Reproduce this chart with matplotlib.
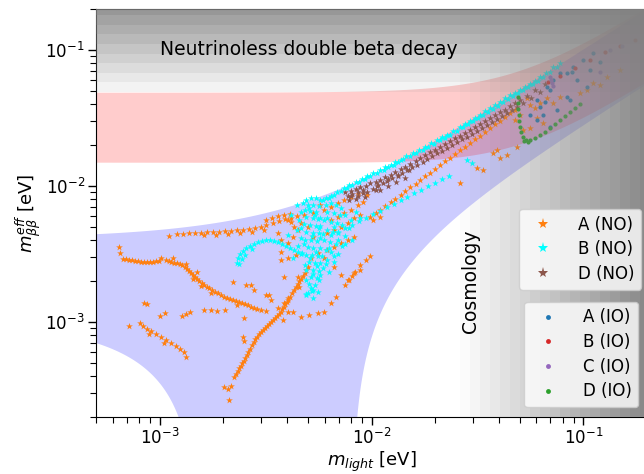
import numpy as np
import matplotlib
matplotlib.use("Agg")
import matplotlib.pyplot as plt
from matplotlib.lines import Line2D

# ---------------- oscillation parameters ----------------
# mixing angles scanned over their 3 sigma ranges, mass splittings at best fit
s12sq = [0.269, 0.287, 0.306, 0.324, 0.343]
s13sq = [0.02032, 0.02125, 0.02225, 0.02320, 0.02410]
dm21 = [7.42e-5]
dm31_NO = [2.515e-3]
dm32_IO = [2.498e-3]

# gray exclusion stripes
bb_limits = [0.049, 0.058, 0.068, 0.080, 0.094, 0.111, 0.130, 0.153, 0.181]
cosmo_limits = [0.0263, 0.0293, 0.0327, 0.0364, 0.0406, 0.0452, 0.0504, 0.0561,
                0.0625, 0.0697, 0.0776, 0.0865, 0.0964, 0.1074, 0.1197, 0.1334,
                0.1486, 0.1656, 0.1845]

# ---------------- scan points: (log10 m_light, log10 m_bb) ----------------
A_NO = [
    # upper-left track
    (-2.958, -2.368), (-2.920, -2.353), (-2.892, -2.353), (-2.863, -2.346), (-2.835, -2.346),
    (-2.807, -2.346), (-2.778, -2.338), (-2.750, -2.338), (-2.722, -2.338), (-2.693, -2.331),
    (-2.665, -2.331), (-2.637, -2.324), (-2.609, -2.324), (-2.580, -2.316), (-2.552, -2.309),
    (-2.524, -2.302), (-2.496, -2.287), (-2.467, -2.272), (-2.439, -2.257), (-2.410, -2.243),
    (-2.382, -2.235), (-2.354, -2.221), (-2.321, -2.213),
    (-2.793, -2.364), (-2.736, -2.360), (-2.679, -2.353), (-2.623, -2.346), (-2.566, -2.338),
    (-2.509, -2.324), (-2.500, -2.250), (-2.472, -2.235), (-2.443, -2.221), (-2.415, -2.213),
    (-2.387, -2.206),
    # left-middle track
    (-3.193, -2.449), (-3.189, -2.493), (-3.175, -2.537), (-3.146, -2.544), (-3.118, -2.551),
    (-3.090, -2.559), (-3.061, -2.559), (-3.033, -2.559), (-3.005, -2.551), (-2.995, -2.529),
    (-2.972, -2.544), (-2.948, -2.559), (-2.920, -2.566), (-2.896, -2.581), (-2.873, -2.610),
    (-2.854, -2.640), (-2.835, -2.669), (-2.816, -2.698), (-2.792, -2.728), (-2.769, -2.750),
    (-2.741, -2.779), (-2.712, -2.801), (-2.684, -2.824), (-2.656, -2.838), (-2.627, -2.853),
    (-2.599, -2.868), (-2.571, -2.890), (-2.542, -2.904),
    (-2.844, -2.684), (-2.807, -2.735), (-2.759, -2.787), (-2.637, -2.875), (-2.825, -2.632),
    (-2.939, -2.529), (-2.877, -2.574),
    (-3.160, -2.540), (-3.132, -2.548), (-3.104, -2.555), (-3.075, -2.559), (-3.047, -2.559),
    (-3.019, -2.555), (-2.958, -2.551), (-2.934, -2.563), (-2.906, -2.574), (-2.882, -2.596),
    (-2.863, -2.625), (-2.844, -2.654), (-2.825, -2.684), (-2.802, -2.713), (-2.778, -2.743),
    (-2.755, -2.765), (-2.726, -2.790), (-2.698, -2.813), (-2.670, -2.831), (-2.642, -2.846),
    (-2.613, -2.860), (-2.585, -2.879), (-2.557, -2.897),
    # lower-left diagonal
    (-3.146, -3.029), (-3.094, -3.007), (-3.080, -3.029), (-3.061, -3.051), (-3.042, -3.066),
    (-3.019, -3.088), (-2.995, -3.110), (-2.972, -3.132), (-2.948, -3.154), (-2.925, -3.176),
    (-2.906, -3.199), (-2.887, -3.221), (-2.877, -3.257), (-3.052, -3.088), (-2.981, -3.154),
    # small pieces
    (-3.075, -2.860), (-3.061, -2.868), (-3.000, -2.956), (-2.976, -2.934),
    (-2.896, -2.956), (-2.877, -2.941), (-2.858, -2.926),
    # rising diagonal
    (-2.698, -3.478), (-2.679, -3.493), (-2.665, -3.471), (-2.675, -3.574), (-2.651, -3.404),
    (-2.632, -3.360), (-2.618, -3.323), (-2.604, -3.287), (-2.590, -3.243), (-2.576, -3.199),
    (-2.557, -3.147), (-2.542, -3.110), (-2.524, -3.073), (-2.505, -3.044), (-2.486, -3.015),
    (-2.467, -2.985), (-2.448, -2.956), (-2.429, -2.926), (-2.415, -2.890), (-2.401, -2.853),
    (-2.387, -2.816), (-2.368, -2.765), (-2.349, -2.721), (-2.335, -2.684), (-2.316, -2.640),
    (-2.302, -2.596),
    (-2.642, -3.382), (-2.625, -3.342), (-2.611, -3.305), (-2.597, -3.265), (-2.583, -3.221),
    (-2.566, -3.173), (-2.550, -3.129), (-2.533, -3.092), (-2.514, -3.059), (-2.495, -3.029),
    (-2.476, -3.000), (-2.458, -2.971), (-2.439, -2.941), (-2.422, -2.908), (-2.408, -2.871),
    (-2.394, -2.835), (-2.377, -2.790), (-2.358, -2.743), (-2.342, -2.702), (-2.325, -2.662),
    (-2.309, -2.618),
    (-2.792, -2.912), (-2.759, -2.912), (-2.731, -2.919), (-2.693, -2.912), (-2.604, -2.971),
    (-2.609, -3.110), (-2.604, -3.140),
    (-2.123, -2.728), (-2.108, -2.691), (-2.094, -2.662), (-2.080, -2.632), (-2.052, -2.581),
    (-2.028, -2.544), (-2.009, -2.515),
    (-2.170, -2.816), (-2.193, -2.860), (-2.226, -2.926), (-2.255, -2.934), (-2.297, -2.949),
    (-2.335, -2.963), (-2.373, -2.926), (-2.396, -2.926), (-2.420, -2.985),
    # mid scattered
    (-2.656, -2.706), (-2.594, -2.728), (-2.571, -2.728), (-2.557, -2.765), (-2.500, -2.801),
    (-2.486, -2.801), (-2.476, -2.838), (-2.443, -2.897), (-2.415, -2.860), (-2.396, -2.824),
    (-2.524, -2.912), (-2.496, -2.919),
    # central cluster
    (-2.443, -2.346), (-2.429, -2.397), (-2.396, -2.419), (-2.373, -2.375), (-2.349, -2.324),
    (-2.335, -2.272), (-2.382, -2.265), (-2.429, -2.485), (-2.396, -2.529), (-2.358, -2.507),
    (-2.288, -2.529), (-2.255, -2.493), (-2.226, -2.529), (-2.208, -2.471), (-2.179, -2.449),
    (-2.146, -2.419), (-2.113, -2.397), (-2.085, -2.375), (-2.208, -2.346), (-2.179, -2.324),
    (-2.146, -2.302), (-2.113, -2.272), (-2.085, -2.235), (-2.052, -2.213), (-2.226, -2.176),
    (-2.193, -2.154), (-2.160, -2.125), (-2.132, -2.103), (-2.099, -2.081), (-2.066, -2.059),
    (-2.274, -2.199), (-2.241, -2.140), (-2.302, -2.302), (-2.179, -2.596), (-2.146, -2.654),
    (-2.113, -2.691), (-2.085, -2.640), (-2.052, -2.618), (-2.349, -2.669), (-2.344, -2.743),
    (-2.415, -2.669), (-2.429, -2.544), (-2.396, -2.250), (-2.368, -2.302), (-2.274, -2.375),
    (-2.132, -2.199), (-2.099, -2.176), (-2.066, -2.140), (-2.038, -2.118), (-2.019, -2.066),
    (-2.160, -2.228), (-2.193, -2.250),
    # main upper band
    (-2.005, -2.228), (-1.981, -2.199), (-1.958, -2.176), (-1.934, -2.147), (-1.910, -2.118),
    (-1.887, -2.096), (-1.863, -2.066), (-1.840, -2.037), (-1.816, -2.007), (-1.792, -1.985),
    (-1.769, -1.956), (-1.745, -1.926), (-1.722, -1.904), (-1.698, -1.875), (-1.675, -1.846),
    (-1.651, -1.816), (-1.627, -1.794), (-1.604, -1.765), (-1.580, -1.735), (-1.557, -1.713),
    (-1.533, -1.684), (-1.509, -1.654), (-1.486, -1.632), (-1.462, -1.603), (-1.439, -1.574),
    (-1.415, -1.544), (-1.392, -1.522), (-1.368, -1.493), (-1.344, -1.463), (-1.321, -1.441),
    # lower scattered
    (-1.580, -1.978), (-1.500, -1.868), (-1.472, -1.882), (-1.406, -1.735), (-1.392, -1.794),
    (-1.358, -1.772), (-1.311, -1.713), (-1.425, -1.757), (-1.991, -2.250), (-1.958, -2.228),
    # high mass region
    (-1.264, -1.353), (-1.250, -1.404), (-1.226, -1.426), (-1.203, -1.390), (-1.170, -1.353),
    (-1.142, -1.390), (-1.108, -1.346), (-1.217, -1.500), (-1.189, -1.537), (-1.283, -1.588),
    (-1.250, -1.574), (-1.014, -1.316), (-0.981, -1.294), (-0.953, -1.243), (-0.920, -1.257),
    (-0.887, -1.199), (-0.825, -1.147), (-1.321, -1.515), (-1.297, -1.478),
]

B_NO = [
    # upper edge line
    (-2.241, -2.103), (-2.217, -2.088), (-2.193, -2.074), (-2.165, -2.044), (-2.132, -2.015),
    (-2.104, -1.993), (-2.075, -1.971), (-2.047, -1.949), (-2.019, -1.926), (-1.991, -1.904),
    (-1.958, -1.882), (-1.934, -1.860), (-1.910, -1.846), (-1.887, -1.824), (-1.863, -1.809),
    (-1.835, -1.779), (-1.802, -1.757), (-1.774, -1.735), (-1.745, -1.713), (-1.717, -1.684),
    (-1.689, -1.662), (-1.665, -1.640), (-1.642, -1.625), (-1.613, -1.596), (-1.580, -1.566),
    (-1.557, -1.544), (-1.533, -1.522), (-1.509, -1.500), (-1.486, -1.478), (-1.462, -1.449),
    (-1.439, -1.426), (-1.415, -1.404), (-1.392, -1.382), (-1.368, -1.353), (-1.344, -1.331),
    (-1.321, -1.316), (-1.297, -1.294), (-1.274, -1.272), (-1.250, -1.250), (-1.226, -1.228),
    (-1.203, -1.199), (-1.175, -1.169), (-1.142, -1.125), (-1.108, -1.096),
    (-2.231, -2.107), (-2.203, -2.088), (-2.179, -2.066), (-2.146, -2.037), (-2.118, -2.015),
    (-2.090, -1.993), (-2.061, -1.971), (-2.033, -1.949), (-2.005, -1.926), (-1.972, -1.904),
    (-1.943, -1.882), (-1.920, -1.864), (-1.896, -1.846), (-1.873, -1.827), (-1.849, -1.805),
    (-1.816, -1.779), (-1.788, -1.757), (-1.759, -1.735), (-1.731, -1.713), (-1.703, -1.688),
    (-1.675, -1.665), (-1.651, -1.647), (-1.627, -1.625), (-1.594, -1.596), (-1.566, -1.570),
    (-1.542, -1.548), (-1.519, -1.526), (-1.495, -1.504), (-1.472, -1.478), (-1.448, -1.456),
    (-1.425, -1.434), (-1.401, -1.412), (-1.377, -1.386), (-1.354, -1.360), (-1.330, -1.338),
    (-1.307, -1.316), (-1.283, -1.294), (-1.259, -1.272), (-1.236, -1.250), (-1.212, -1.228),
    (-1.189, -1.199), (-1.156, -1.162), (-1.123, -1.125),
    # dense cluster
    (-2.311, -2.103), (-2.288, -2.088), (-2.264, -2.088), (-2.302, -2.140), (-2.274, -2.140),
    (-2.250, -2.147), (-2.316, -2.176), (-2.292, -2.184), (-2.264, -2.191), (-2.307, -2.228),
    (-2.278, -2.235), (-2.255, -2.243), (-2.321, -2.279), (-2.292, -2.287), (-2.264, -2.294),
    (-2.241, -2.294), (-2.307, -2.338), (-2.278, -2.346), (-2.250, -2.346), (-2.316, -2.397),
    (-2.288, -2.397), (-2.259, -2.404), (-2.302, -2.449), (-2.274, -2.456), (-2.245, -2.456),
    (-2.311, -2.507), (-2.283, -2.507), (-2.255, -2.515), (-2.297, -2.559), (-2.269, -2.566),
    (-2.241, -2.566), (-2.307, -2.618), (-2.278, -2.618), (-2.250, -2.625), (-2.288, -2.669),
    (-2.259, -2.676), (-2.297, -2.721), (-2.269, -2.728), (-2.283, -2.772), (-2.307, -2.794),
    (-2.278, -2.824),
    (-2.217, -2.140), (-2.193, -2.125), (-2.170, -2.140), (-2.208, -2.191), (-2.179, -2.199),
    (-2.151, -2.213), (-2.222, -2.250), (-2.193, -2.265), (-2.165, -2.272), (-2.137, -2.287),
    (-2.212, -2.324), (-2.184, -2.338), (-2.156, -2.346), (-2.127, -2.368), (-2.226, -2.397),
    (-2.198, -2.412), (-2.170, -2.426), (-2.141, -2.441), (-2.217, -2.471), (-2.189, -2.485),
    (-2.160, -2.500), (-2.208, -2.544), (-2.179, -2.559), (-2.231, -2.603), (-2.203, -2.632),
    (-2.250, -2.691),
    (-2.354, -2.140), (-2.335, -2.191), (-2.344, -2.250), (-2.354, -2.324), (-2.335, -2.382),
    (-2.349, -2.441), (-2.335, -2.500), (-2.302, -2.787), (-2.278, -2.765), (-2.311, -2.801),
    (-2.325, -2.125), (-2.297, -2.162), (-2.269, -2.213), (-2.241, -2.235), (-2.335, -2.309),
    (-2.283, -2.368), (-2.245, -2.382), (-2.321, -2.426), (-2.264, -2.485), (-2.292, -2.529),
    (-2.236, -2.515), (-2.316, -2.581), (-2.259, -2.588), (-2.274, -2.647), (-2.311, -2.691),
    (-2.241, -2.654), (-2.288, -2.750), (-2.255, -2.779), (-2.146, -2.162), (-2.123, -2.213),
    (-2.099, -2.250), (-2.108, -2.309), (-2.075, -2.191), (-2.052, -2.235), (-2.156, -2.397),
    (-2.123, -2.426), (-2.090, -2.397), (-2.203, -2.456), (-2.175, -2.515), (-2.217, -2.574),
    (-2.382, -2.213), (-2.392, -2.360), (-2.373, -2.529), (-2.250, -2.309), (-2.231, -2.353),
    (-2.208, -2.235), (-2.175, -2.301),
    # hook
    (-2.637, -2.566), (-2.632, -2.529), (-2.623, -2.500), (-2.609, -2.478), (-2.594, -2.456),
    (-2.576, -2.441), (-2.557, -2.426), (-2.538, -2.412), (-2.519, -2.404), (-2.500, -2.397),
    (-2.481, -2.397), (-2.462, -2.404), (-2.443, -2.412), (-2.424, -2.426), (-2.406, -2.441),
    (-2.387, -2.456), (-2.368, -2.471), (-2.349, -2.485), (-2.330, -2.493), (-2.613, -2.537),
    (-2.599, -2.507), (-2.566, -2.463), (-2.627, -2.574),
    # lower diagonal
    (-2.193, -2.360), (-2.160, -2.338), (-2.127, -2.309), (-2.094, -2.287), (-2.061, -2.257),
    (-2.028, -2.235), (-1.995, -2.206), (-1.962, -2.184), (-1.929, -2.154), (-1.896, -2.132),
    (-1.863, -2.103), (-1.830, -2.081), (-1.797, -2.051), (-1.764, -2.029), (-1.731, -2.000),
    (-1.698, -1.978), (-1.665, -1.949), (-1.632, -1.926), (-1.547, -1.809), (-1.524, -1.831),
]

D_NO = [
    (-2.123, -2.044), (-2.099, -2.037), (-2.075, -2.022), (-2.052, -2.007), (-2.028, -2.000),
    (-2.042, -2.051), (-2.019, -2.044), (-2.005, -1.978), (-1.981, -1.971), (-1.995, -2.022),
    (-1.958, -1.956), (-1.934, -1.934), (-1.910, -1.919), (-1.887, -1.897), (-1.863, -1.875),
    (-1.840, -1.860), (-1.816, -1.838), (-1.792, -1.816), (-1.769, -1.794), (-1.745, -1.772),
    (-1.722, -1.750), (-1.698, -1.735), (-1.675, -1.713), (-1.651, -1.691), (-1.627, -1.669),
    (-1.604, -1.647), (-1.580, -1.632), (-1.557, -1.610), (-1.533, -1.588), (-1.509, -1.566),
    (-1.486, -1.544), (-1.462, -1.522), (-1.439, -1.500), (-1.415, -1.478), (-1.392, -1.456),
    (-1.368, -1.441), (-1.344, -1.412), (-1.321, -1.390), (-1.297, -1.368), (-1.264, -1.338),
    (-1.226, -1.294), (-1.179, -1.250),
    (-1.967, -1.993), (-1.920, -1.949), (-1.873, -1.919), (-1.825, -1.882), (-2.099, -2.074),
    (-2.066, -2.074), (-1.981, -2.029),
    (-2.113, -2.074), (-2.090, -2.059), (-2.066, -2.048), (-2.042, -2.033), (-1.972, -2.000),
    (-1.948, -1.982), (-1.925, -1.963), (-1.901, -1.945), (-1.877, -1.926), (-1.854, -1.904),
    (-1.830, -1.886), (-1.807, -1.864), (-1.783, -1.846), (-1.759, -1.824), (-1.736, -1.801),
    (-1.712, -1.779), (-1.689, -1.761), (-1.665, -1.743), (-1.642, -1.721), (-1.618, -1.699),
    (-1.594, -1.676), (-1.571, -1.658), (-1.547, -1.640), (-1.524, -1.618), (-1.500, -1.596),
    (-1.476, -1.574), (-1.453, -1.551), (-1.429, -1.529), (-1.406, -1.507), (-1.382, -1.485),
    (-1.358, -1.463), (-1.335, -1.441), (-1.311, -1.419), (-1.283, -1.390), (-1.245, -1.353),
    (-1.203, -1.309),
    (-2.108, -2.103), (-2.071, -2.096), (-2.033, -2.081), (-1.958, -2.029), (-1.920, -2.000),
    (-1.882, -1.971), (-1.844, -1.941),
]

A_IO = [
    (-1.170, -1.272), (-1.156, -1.294), (-1.108, -1.169), (-1.052, -1.162), (-1.075, -1.346),
    (-1.203, -1.419), (-1.189, -1.478), (-1.217, -1.515), (-1.156, -1.566), (-1.217, -1.368),
    (-1.142, -1.221), (-1.075, -1.169), (-1.028, -1.221), (-0.981, -1.272), (-1.061, -1.368),
    (-1.047, -1.125), (-0.999, -1.074), (-0.953, -1.022), (-0.967, -1.147), (-0.920, -1.088),
    (-1.123, -1.441), (-1.250, -1.478), (-1.179, -1.382),
]
B_IO = [
    (-1.165, -1.235), (-1.108, -1.191), (-1.038, -1.132), (-0.967, -1.074), (-0.896, -1.015),
    (-0.825, -0.971), (-0.755, -0.926),
]
C_IO = [
    (-1.156, -1.199), (-1.151, -1.221), (-1.146, -1.243), (-1.142, -1.265), (-0.873, -1.000),
    (-0.816, -0.971), (-0.920, -1.162),
]
D_IO = [
    (-1.307, -1.346), (-1.307, -1.390), (-1.307, -1.434), (-1.302, -1.478), (-1.302, -1.522),
    (-1.297, -1.566), (-1.292, -1.603), (-1.283, -1.640), (-1.269, -1.662), (-1.250, -1.662),
    (-1.226, -1.647), (-1.203, -1.625), (-1.179, -1.603), (-1.156, -1.574), (-1.132, -1.544),
    (-1.108, -1.515), (-1.085, -1.485), (-1.061, -1.456), (-1.038, -1.426), (-1.014, -1.397),
    (-1.278, -1.669), (-1.259, -1.676),
]


def mbb_range(m0, ordering):
    lo = np.full_like(m0, np.inf)
    hi = np.zeros_like(m0)
    d3s = dm31_NO if ordering == "NO" else dm32_IO
    for a in s12sq:
        for b in s13sq:
            for d21 in dm21:
                for d3 in d3s:
                    if ordering == "NO":
                        m1 = m0
                        m2 = np.sqrt(m0**2 + d21)
                        m3 = np.sqrt(m0**2 + d3)
                    else:
                        m3 = m0
                        m2 = np.sqrt(m0**2 + d3)
                        m1 = np.sqrt(m2**2 - d21)
                    t1 = (1 - a) * (1 - b) * m1
                    t2 = a * (1 - b) * m2
                    t3 = b * m3
                    s = t1 + t2 + t3
                    mn = np.maximum(0.0, 2 * np.maximum(np.maximum(t1, t2), t3) - s)
                    lo = np.minimum(lo, mn)
                    hi = np.maximum(hi, s)
    return lo, hi


fig = plt.figure(figsize=(6.44, 4.74), dpi=100)
ax = fig.add_axes([96 / 644, 57 / 474, 551 / 644, 408 / 474])
ax.set_xscale("log")
ax.set_yscale("log")

m0 = np.logspace(-3.5, 0, 1200)
lo_no, hi_no = mbb_range(m0, "NO")
lo_io, hi_io = mbb_range(m0, "IO")
ax.fill_between(m0, np.maximum(lo_no, 1e-7), hi_no, color="blue", alpha=0.2, lw=0, zorder=1)
ax.fill_between(m0, np.maximum(lo_io, 1e-7), hi_io, color="red", alpha=0.2, lw=0, zorder=1)

star = dict(marker="*", s=26, linewidths=0, zorder=2)
dot = dict(marker="o", s=9, linewidths=0, zorder=2)


def sc(data, color, style):
    arr = np.array(data)
    ax.scatter(10 ** arr[:, 0], 10 ** arr[:, 1], color=color, **style)


sc(A_NO, "C1", star)
sc(D_NO, "C5", star)
sc(B_NO, "cyan", star)
sc(A_IO, "C0", dot)
sc(B_IO, "C3", dot)
sc(C_IO, "C4", dot)
sc(D_IO, "C2", dot)

# gray exclusion stripes (drawn over the points)
nb = len(bb_limits)
for k in range(nb):
    top = bb_limits[k + 1] if k + 1 < nb else 1.0
    ax.axhspan(bb_limits[k], top, color="gray", alpha=(k + 1) / 11, lw=0, zorder=3)
nc = len(cosmo_limits)
for k in range(nc):
    right = cosmo_limits[k + 1] if k + 1 < nc else 1.0
    ax.axvspan(cosmo_limits[k], right, color="gray", alpha=(k + 0.6) / 20, lw=0, zorder=3)

ax.set_xlim(5e-4, 0.2)
ax.set_ylim(2e-4, 0.2)

ax.text(1e-3, 0.1, "Neutrinoless double beta decay", fontsize=13.5, va="center",
        ha="left", zorder=6)
ax.text(0.0293, 2.0e-3, "Cosmology", fontsize=13.5, rotation=90, va="center",
        ha="center", zorder=6)

ax.set_xlabel(r"$m_{light}$ [eV]", fontsize=13, labelpad=1)
ax.set_ylabel(r"$m_{\beta\beta}^{eff}$ [eV]", fontsize=13, labelpad=2)
ax.tick_params(axis="both", which="major", labelsize=12, length=6, width=1, pad=2)
ax.tick_params(axis="both", which="minor", length=4, width=0.8)

h_no = [Line2D([], [], ls="", marker="*", markersize=8, color=c, markeredgewidth=0)
        for c in ["C1", "cyan", "C5"]]
leg1 = ax.legend(h_no, ["A (NO)", "B (NO)", "D (NO)"], loc="upper right",
                 bbox_to_anchor=(0.989, 0.510), borderaxespad=0, fontsize=12,
                 labelspacing=0.4, handletextpad=1.1)
leg1.set_zorder(7)
ax.add_artist(leg1)
h_io = [Line2D([], [], ls="", marker="o", markersize=3.5, color=c, markeredgewidth=0)
        for c in ["C0", "C3", "C4", "C2"]]
leg2 = ax.legend(h_io, ["A (IO)", "B (IO)", "C (IO)", "D (IO)"], loc="lower right",
                 bbox_to_anchor=(0.984, 0.0245), borderaxespad=0, fontsize=12,
                 labelspacing=0.4, handletextpad=1.1)
leg2.set_zorder(7)

fig.savefig("out.png", dpi=100)
